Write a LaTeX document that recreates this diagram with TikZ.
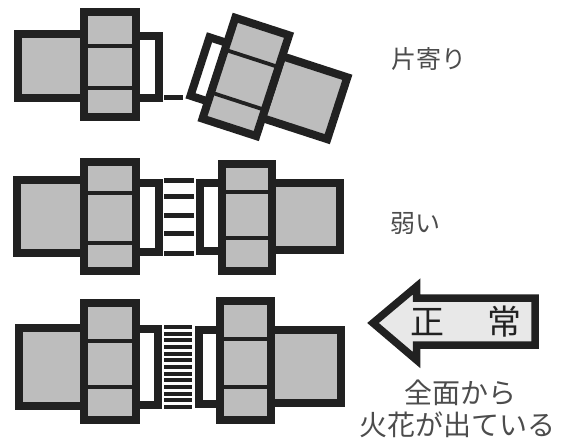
\documentclass[tikz,border=0pt]{standalone}
\usepackage{fontspec}
\newfontfamily\jpfont{Noto Sans CJK JP}
\definecolor{ink}{gray}{0.13}
\definecolor{metal}{gray}{0.74}
\definecolor{pale}{gray}{0.91}
\definecolor{script}{gray}{0.3}

\begin{document}
\begin{tikzpicture}[x=1pt,y=-1pt]
\tikzset{body/.style = {draw=ink,fill=metal,line width=8pt,line join=miter}}
\tikzset{stub/.style = {draw=ink,fill=white,line width=8pt}}
\tikzset{rib/.style = {draw=ink,line width=3.8pt}}
\tikzset{spark/.style = {draw=ink,line width=5pt}}
\tikzset{finespark/.style = {draw=ink,line width=3.8pt}}
\tikzset{notice/.style = {draw=ink,fill=pale,line width=7.5pt,line join=miter,miter limit=10}}
\tikzset{caption/.style = {inner sep=0pt,text=script,font=\jpfont\fontsize{28}{30}\selectfont}}
\tikzset{sign/.style = {inner sep=0pt,text=ink,font=\jpfont\fontsize{34}{34}\selectfont}}
\tikzset{remark/.style = {inner sep=0pt,text=script,font=\jpfont\fontsize{25}{30}\selectfont}}
\useasboundingbox (0,0) rectangle (571,439);
% top row, left half
\draw[body] (17.5,34) rectangle (84,98);
\draw[stub] (135,35.5) rectangle (158.5,98);
\draw[body] (83.5,12) rectangle (135.5,117);
\draw[rib] (83.5,46) -- (135.5,46);
\draw[rib] (83.5,88) -- (135.5,88);
% top row, tilted half
\begin{scope}[shift={(246,77)},rotate=-18]
\draw[body] (28,-31) rectangle (96.5,34);
\draw[stub] (-28,-26.5) rectangle (-47,35);
\draw[body] (-28.5,-53) rectangle (28,53);
\draw[rib] (-28.5,-19.5) -- (28,-19.5);
\draw[rib] (-28.5,25.5) -- (28,25.5);
\end{scope}
\coordinate (gapa) at (164,97.5);
\coordinate (gapb) at (183,97.5);
\draw[spark] (gapa) -- (gapb);
% middle row, left half
\draw[body] (17,180) rectangle (84,252.5);
\draw[stub] (135,182.5) rectangle (158.5,251.5);
\draw[body] (83.5,161.5) rectangle (135.5,270.5);
\draw[rib] (83.5,193) -- (135.5,193);
\draw[rib] (83.5,243) -- (135.5,243);
% middle row, right half
\draw[body] (271,183) rectangle (340,249.5);
\draw[stub] (199.5,182.5) rectangle (222,250.5);
\draw[body] (221.5,164) rectangle (271.5,270.5);
\draw[rib] (221.5,192) -- (271.5,192);
\draw[rib] (221.5,238) -- (271.5,238);
\foreach \y in {180,196,215,233,253}
  \draw[spark] (164,\y) -- (194,\y);
% bottom row, left half
\draw[body] (18.5,327.5) rectangle (84,406);
\draw[stub] (135,328.5) rectangle (157.5,404.5);
\draw[body] (83.5,303) rectangle (135.5,420);
\draw[rib] (83.5,341) -- (135.5,341);
\draw[rib] (83.5,387) -- (135.5,387);
% bottom row, right half
\draw[body] (270,329.5) rectangle (340.5,403);
\draw[stub] (199,329.5) rectangle (221,404);
\draw[body] (219.5,300.5) rectangle (270.5,419.5);
\draw[rib] (219.5,339) -- (270.5,339);
\draw[rib] (219.5,387) -- (270.5,387);
\foreach \i in {0,...,12}
  \draw[finespark] (164,327+\i*6.67) -- (192,327+\i*6.67);
% arrow and labels
\draw[notice] (373,323) -- (416.5,286.5) -- (416.5,298) -- (535,298) -- (535,345) -- (416.5,345) -- (416.5,360) -- cycle;
\node[sign] (sei) at (427,322) {正};
\node[sign] (jo) at (504,322) {常};
\node[caption] (zen) at (460,393) {全面から};
\node[caption] (hibana) at (457,425) {火花が出ている};
\node[remark] (kata) at (429,59) {片寄り};
\node[remark] (yowai) at (415,223) {弱い};
\end{tikzpicture}
\end{document}
